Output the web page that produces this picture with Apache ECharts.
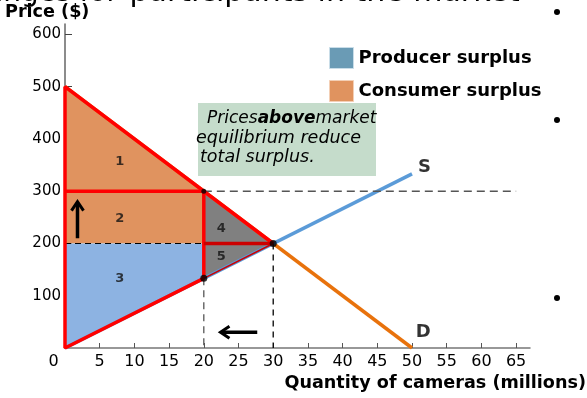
<!DOCTYPE html>
<html>
<head>
<meta charset="utf-8">
<script src="https://cdn.jsdelivr.net/npm/echarts@6/dist/echarts.min.js"></script>
<style>html,body{margin:0;padding:0;background:#fff}#c{width:587px;height:398px}</style>
</head>
<body>
<div id="c"></div>
<script>
// ---- data ----
const xTicks = [0,5,10,15,20,25,30,35,40,45,50,55,60,65];
const yTicks = [100,200,300,400,500,600];
const demand = [[0,500],[50,0]];
const supply = [[0,0],[50,333.3]];
const region1 = [[0,500],[0,300],[20,300]];
const region2 = [[0,300],[20,300],[20,200],[0,200]];
const region3 = [[0,200],[20,200],[20,133.3],[0,0]];
const region4 = [[20,300],[20,200],[30,200]];
const region5 = [[20,200],[30,200],[20,133.3]];
const redOuter = [[20,133.3],[0,0],[0,500],[30,200]];
const redTop = [[0,300],[20,300]];
const redVert = [[20,300],[20,133.3]];
const darkRedMid = [[20,200],[30,200]];
const darkRedLow = [[20,133.3],[30,200]];
const dashPrice = [[20,300],[65,300]];
const dashQ20 = [[20,133.3],[20,0]];
const dashQ30 = [[30,200],[30,0]];
const dashEq = [[0,200],[20,200]];
const dots = [[30,200,7],[20,300,5],[20,133.3,7]];
const regionLabels = [[7.9,356,'1'],[7.9,248,'2'],[7.9,133,'3'],[22.5,229,'4'],[22.5,174,'5']];
const curveLabels = [[51.8,345,'S'],[51.6,30,'D']];
const arrows = [[[1.8,210],[1.8,280]],[[27.7,30],[22.4,30]]];

function poly(name, pts, color){
  return {type:'custom', name:name, coordinateSystem:'cartesian2d', silent:true, z:1,
    data:[[pts[0][0],pts[0][1]]],
    renderItem:function(p,api){
      return {type:'polygon', shape:{points:pts.map(function(q){return api.coord(q);})}, style:{fill:color}};
    }};
}
function seg(data, color, width, type, z){
  return {type:'line', data:data, symbol:'none', silent:true, z:z||3, animation:false,
    lineStyle:{color:color, width:width, type:type||'solid', cap:'butt', dashOffset:0}};
}

const chart = echarts.init(document.getElementById('c'));
chart.setOption({
  animation:false,
  grid:{left:65, right:57, top:24, bottom:50},
  xAxis:{type:'value', min:0, max:67,
    axisLine:{lineStyle:{color:'#777', width:1.5}},
    axisTick:{inside:true, length:5, customValues:xTicks.slice(1), lineStyle:{color:'#555'}},
    axisLabel:{customValues:xTicks, color:'#000', fontSize:16, fontFamily:'DejaVu Sans', margin:6,
      formatter:function(v){return v===0?'{z|0}':String(v);},
      rich:{z:{fontSize:16, fontFamily:'DejaVu Sans', color:'#000', padding:[0,23,0,0]}}},
    splitLine:{show:false}},
  yAxis:{type:'value', min:0, max:620,
    axisLine:{show:true, lineStyle:{color:'#666', width:1.5}},
    axisTick:{show:true, inside:true, length:7, customValues:yTicks, lineStyle:{color:'#444'}},
    axisLabel:{customValues:yTicks, color:'#000', fontSize:15, fontFamily:'DejaVu Sans', margin:4},
    splitLine:{show:false}},
  legend:{orient:'vertical', left:329, top:47, padding:0, itemWidth:24, itemHeight:21, itemGap:11, icon:'rect',
    textStyle:{fontSize:18, fontWeight:'bold', fontFamily:'DejaVu Sans', color:'#000'},
    selectedMode:false,
    data:[{name:'Producer surplus', itemStyle:{color:'#6a9bb5', borderColor:'#c9dde8', borderWidth:1}},
          {name:'Consumer surplus', itemStyle:{color:'#e0935f', borderColor:'#f3cfb5', borderWidth:1}}]},
  series:[
    poly('Consumer surplus', region1, '#e0935f'),
    poly('Consumer surplus', region2, '#e0935f'),
    poly('Producer surplus', region3, '#8db3e2'),
    poly('dwl4', region4, '#808080'),
    poly('dwl5', region5, '#808080'),
    seg(demand, '#e8720c', 3.5, 'solid', 2),
    seg(supply, '#5b9bd8', 3.5, 'solid', 2),
    seg(dashPrice, '#555', 1.3, [8,5], 2),
    seg(dashQ20, '#555', 1.3, [7,5], 2),
    seg(dashQ30, '#000', 1.3, [6,5], 2),
    seg(dashEq, '#000', 1.2, [6,4], 2),
    seg(redOuter, '#ff0000', 3.5, 'solid', 4),
    seg(redTop, '#ff0000', 3.5, 'solid', 4),
    seg(redVert, '#ff0000', 3.5, 'solid', 4),
    seg(darkRedMid, '#cc0000', 3.5, 'solid', 4),
    seg(darkRedLow, '#cc0000', 1.5, 'solid', 4),
    {type:'scatter', data:dots, silent:true, z:6, symbolSize:function(v){return v[2];},
      itemStyle:{color:'#000'}},
    {type:'scatter', data:regionLabels, silent:true, z:6, symbolSize:1, itemStyle:{color:'transparent'},
      label:{show:true, position:'inside', formatter:function(p){return p.value[2];},
        fontSize:13, fontWeight:'bold', fontFamily:'DejaVu Sans', color:'#111'}},
    {type:'scatter', data:curveLabels, silent:true, z:6, symbolSize:1, itemStyle:{color:'transparent'},
      label:{show:true, position:'inside', formatter:function(p){return p.value[2];},
        fontSize:18, fontWeight:'bold', fontFamily:'DejaVu Sans', color:'#000'}},
    {type:'custom', coordinateSystem:'cartesian2d', silent:true, z:6,
      data:arrows.map(function(a,i){return [a[0][0],a[0][1],i];}),
      renderItem:function(p,api){
        const a = arrows[p.dataIndex];
        const p0 = api.coord(a[0]), p1 = api.coord(a[1]);
        const dx = p1[0]-p0[0], dy = p1[1]-p0[1], L = Math.sqrt(dx*dx+dy*dy);
        const ux = dx/L, uy = dy/L, nx = -uy, ny = ux, h = 9, w = 6;
        return {type:'group', children:[
          {type:'line', shape:{x1:p0[0],y1:p0[1],x2:p1[0]-ux*1,y2:p1[1]-uy*1}, style:{stroke:'#000', lineWidth:3.5}},
          {type:'polyline', shape:{points:[[p1[0]-ux*h+nx*w,p1[1]-uy*h+ny*w],[p1[0],p1[1]],[p1[0]-ux*h-nx*w,p1[1]-uy*h-ny*w]]},
            style:{stroke:'#000', lineWidth:3, fill:null, lineJoin:'miter'}}
        ]};
      }}
  ],
  graphic:[
    {type:'text', silent:true, style:{x:118, y:8, text:'Changes for', align:'right', verticalAlign:'bottom', font:'28px "DejaVu Sans"', fill:'#000'}},
    {type:'text', silent:true, style:{x:120, y:8, text:' participants in the market', align:'left', verticalAlign:'bottom', font:'30px "DejaVu Sans"', fill:'#000'}},
    {type:'text', silent:true, style:{x:5, y:12, text:'Price ($)', verticalAlign:'middle', font:'bold 17.6px "DejaVu Sans"', fill:'#000'}},
    {type:'text', silent:true, style:{x:586, y:383, text:'Quantity of cameras (millions)', align:'right', verticalAlign:'middle', font:'bold 17.6px "DejaVu Sans"', fill:'#000'}},
    {type:'rect', silent:true, shape:{x:198, y:103, width:178, height:73}, style:{fill:'#c5dccb'}, z:10},
    {type:'text', silent:true, z:11, style:{x:207, y:119, verticalAlign:'middle',
      text:'{i|Prices}{b|above}{i|market}',
      rich:{i:{font:'italic 17px "DejaVu Sans"', fill:'#000'}, b:{font:'italic bold 17px "DejaVu Sans"', fill:'#000'}}}},
    {type:'text', silent:true, z:11, style:{x:196, y:138, verticalAlign:'middle', text:'equilibrium reduce', font:'italic 17.5px "DejaVu Sans"', fill:'#000'}},
    {type:'text', silent:true, z:11, style:{x:200, y:157, verticalAlign:'middle', text:'total surplus.', font:'italic 17.5px "DejaVu Sans"', fill:'#000'}},
    {type:'circle', silent:true, shape:{cx:557, cy:12, r:3}, style:{fill:'#000'}},
    {type:'circle', silent:true, shape:{cx:557, cy:120, r:3}, style:{fill:'#000'}},
    {type:'circle', silent:true, shape:{cx:557, cy:298, r:3}, style:{fill:'#000'}}
  ]
});
</script>
</body>
</html>
